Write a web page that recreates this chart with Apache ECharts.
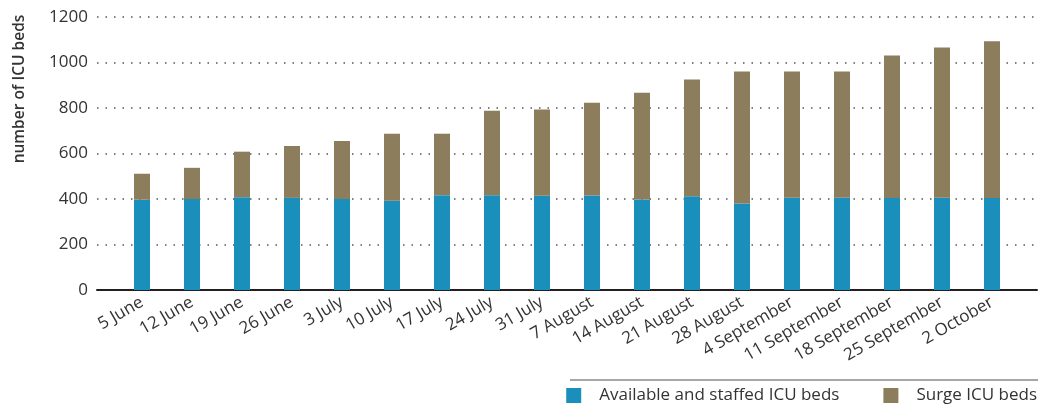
<!DOCTYPE html>
<html>
<head>
<meta charset="utf-8">
<script src="https://cdn.jsdelivr.net/npm/echarts@6/dist/echarts.min.js"></script>
<style>
  html, body { margin: 0; padding: 0; background: #fff; }
  #chart { width: 1045px; height: 407px; }
</style>
</head>
<body>
<div id="chart"></div>
<script>
// weeks shown on the x axis
const weeks = ['5 June', '12 June', '19 June', '26 June', '3 July', '10 July', '17 July', '24 July',
  '31 July', '7 August', '14 August', '21 August', '28 August', '4 September', '11 September',
  '18 September', '25 September', '2 October']
// stacked parts of each bar
const availableBeds = [397, 400, 408, 405, 400, 392, 417, 417, 414, 415, 398, 412, 380, 406, 406, 404, 406, 404]
const surgeBeds = [114, 137, 200, 228, 255, 295, 270, 371, 379, 408, 469, 513, 580, 554, 554, 627, 660, 689]
const yTicks = { min: 0, max: 1200, interval: 200 }

const FONT = 'Open Sans'
const TEXT = '#333'

const chart = echarts.init(document.getElementById('chart'))

chart.setOption({
  animation: false,
  textStyle: { fontFamily: FONT },
  grid: [
    // frame: gridlines, y labels, zero line
    { left: 97, right: 8, top: 17, bottom: 117 },
    // bars sit in a slightly narrower band
    { left: 117, width: 900, top: 17, bottom: 117 }
  ],
  xAxis: [{
    gridIndex: 0,
    type: 'category',
    data: weeks,
    axisLine: { show: true, lineStyle: { color: '#231f20', width: 2 } },
    axisTick: { show: false },
    axisLabel: { show: false }
  }, {
    gridIndex: 1,
    type: 'category',
    data: weeks,
    axisLine: { show: false },
    axisTick: { show: false },
    axisLabel: {
      interval: 0,
      rotate: 30,
      margin: 11,
      fontSize: 17,
      color: TEXT,
      fontFamily: FONT
    }
  }],
  yAxis: [{
    gridIndex: 0,
    type: 'value',
    min: yTicks.min,
    max: yTicks.max,
    interval: yTicks.interval,
    axisLine: { show: false },
    axisTick: { show: false },
    axisLabel: {
      margin: 9,
      fontSize: 17,
      color: TEXT,
      fontFamily: FONT,
      formatter: v => String(v)
    },
    splitLine: { lineStyle: { color: '#555', width: 1.5, type: [1.5, 7] } }
  }, {
    gridIndex: 1,
    type: 'value',
    min: yTicks.min,
    max: yTicks.max,
    interval: yTicks.interval,
    show: false
  }],
  legend: {
    right: 8,
    top: 387,
    padding: 0,
    itemWidth: 15,
    itemHeight: 15,
    itemGap: 44,
    icon: 'rect',
    textStyle: { fontSize: 17, color: TEXT, fontFamily: FONT, padding: [0, 0, 0, 13] },
    data: ['Available and staffed ICU beds', 'Surge ICU beds']
  },
  graphic: [{
    type: 'line',
    shape: { x1: 570, y1: 380, x2: 1038, y2: 380 },
    style: { stroke: '#8a8a8a', lineWidth: 1.5 }
  }, {
    type: 'text',
    x: 20,
    y: 89,
    rotation: Math.PI / 2,
    style: {
      text: 'number of ICU beds',
      fontFamily: FONT,
      fontSize: 15.5,
      fontWeight: 600,
      fill: TEXT,
      align: 'center',
      verticalAlign: 'middle'
    }
  }],
  series: [{
    name: 'Available and staffed ICU beds',
    type: 'bar',
    stack: 'beds',
    xAxisIndex: 1,
    yAxisIndex: 1,
    barWidth: 16,
    itemStyle: { color: '#1a8fbb' },
    data: availableBeds
  }, {
    name: 'Surge ICU beds',
    type: 'bar',
    stack: 'beds',
    xAxisIndex: 1,
    yAxisIndex: 1,
    barWidth: 16,
    itemStyle: { color: '#8c7d5c' },
    data: surgeBeds
  }]
})
</script>
</body>
</html>
